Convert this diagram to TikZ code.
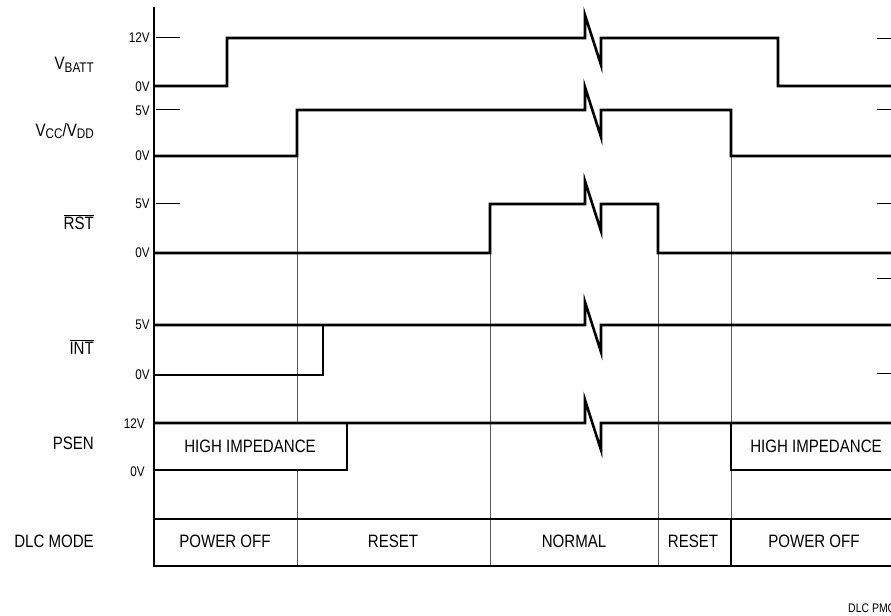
\documentclass[tikz,border=0pt]{standalone}
\usepackage{fontspec}
\setmainfont{Liberation Sans}[FakeStretch=0.84]

\newcommand{\lowtxt}[1]{\raisebox{-0.3ex}{\fontsize{14}{14}\selectfont #1}}
\newcommand{\bartxt}[1]{$\overline{\mbox{#1}}$}

\tikzset{
  sig/.style={line width=2.6bp, line join=miter},
  guide/.style={line width=1bp, draw=black!65},
  tick/.style={line width=1bp},
  brk/.style={insert path={-- ++(0,-23) -- ++(16,50) -- ++(0,-27)}},
  signame/.style={font=\fontsize{18}{18}\selectfont, anchor=east, inner sep=0pt},
  level/.style={font=\fontsize{14}{14}\selectfont, anchor=east, inner sep=0pt},
  mode/.style={font=\fontsize{18}{18}\selectfont, inner sep=0pt},
}

\begin{document}
\begin{tikzpicture}[x=1bp,y=-1bp]
\useasboundingbox (0,0) rectangle (891,616);

% signal names
\node[signame] (vbatt) at (94,65) {V\lowtxt{BATT}};
\node[signame] (vcc) at (94,131) {V\lowtxt{CC}/V\lowtxt{DD}};
\node[signame] (rst) at (94,222) {\bartxt{RST}};
\node[signame] (int) at (94,347) {\bartxt{INT}};
\node[signame] (psen) at (94,443) {PSEN};
\node[signame] (mode) at (94,541) {DLC MODE};

% levels
\node[level] (vb12) at (150,38) {12V};
\node[level] (vb0) at (150,87) {0V};
\node[level] (vc5) at (150,111) {5V};
\node[level] (vc0) at (150,156) {0V};
\node[level] (rs5) at (150,204) {5V};
\node[level] (rs0) at (150,253) {0V};
\node[level] (in5) at (150,325) {5V};
\node[level] (in0) at (150,375) {0V};
\node[level] (ps12) at (145,424) {12V};
\node[level] (ps0) at (145,472) {0V};

% ticks
\foreach \y in {38,110,204}
  \draw[tick] (156,\y) -- (180,\y);
\foreach \y in {39,110,204,278,373}
  \draw[tick] (877,\y) -- (891,\y);

% guides
\draw[guide] (297,156) -- (297,423);
\draw[guide] (297,470) -- (297,567);
\draw[guide] (490,253) -- (490,567);
\draw[guide] (658,253) -- (658,567);
\draw[guide] (731,156) -- (731,519);

% axis
\draw[sig] (154,7) -- (154,567);

% waveforms
\draw[sig] (154,86) -- (227,86) -- (227,38) -- (585,38) [brk] -- (778,38) -- (778,86) -- (891,86);
\draw[sig] (154,156) -- (297,156) -- (297,110) -- (585,110) [brk] -- (731,110) -- (731,156) -- (891,156);
\draw[sig] (154,253) -- (490,253) -- (490,204) -- (585,204) [brk] -- (658,204) -- (658,253) -- (891,253);
\draw[sig] (154,325) -- (585,325) [brk] -- (891,325);
\draw[sig] (154,375) -- (323,375) -- (323,325);
\draw[sig] (154,423) -- (585,423) [brk] -- (891,423);
\draw[sig] (154,470) -- (347,470) -- (347,423);
\draw[sig] (731,423) -- (731,470) -- (891,470);

\node[mode] (hiz1) at (250,446) {HIGH IMPEDANCE};
\node[mode] (hiz2) at (816,446) {HIGH IMPEDANCE};

% mode row
\draw[sig] (154,519) -- (891,519);
\draw[sig] (154,566) -- (891,566);
\draw[sig] (731,519) -- (731,566);

\node[mode] (off1) at (225,541) {POWER OFF};
\node[mode] (reset1) at (393,541) {RESET};
\node[mode] (normal) at (574,541) {NORMAL};
\node[mode] (reset2) at (693,541) {RESET};
\node[mode] (off2) at (814,541) {POWER OFF};

\node[font=\fontsize{12.5}{12.5}\selectfont, anchor=west, inner sep=0pt] (fig) at (848,608) {DLC PMC};
\end{tikzpicture}
\end{document}
